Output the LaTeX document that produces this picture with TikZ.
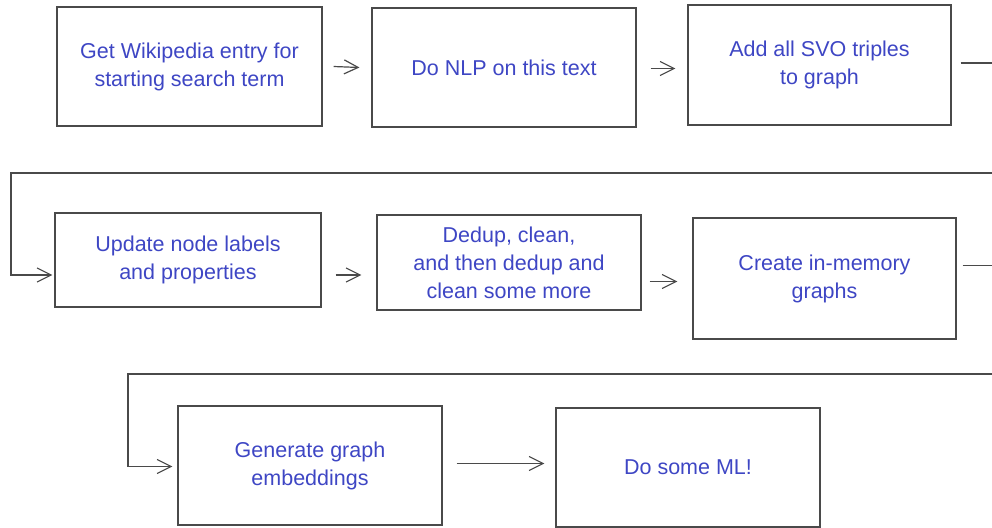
\documentclass[tikz,border=0pt]{standalone}
\usepackage{fontspec}
\setmainfont{Liberation Sans}
\usetikzlibrary{arrows.meta}
\definecolor{inkblue}{HTML}{3E46C4}
\definecolor{lineg}{HTML}{4A4A4A}
\tikzset{
  box/.style={draw=lineg, line width=1.1pt, rectangle, align=center,
    text=inkblue, font=\fontsize{21.5}{28}\selectfont, inner sep=0pt},
  conn/.style={draw=lineg, line width=1.2pt},
  arr/.style={conn, -{Straight Barb[length=14pt,width=14pt,line width=1.2pt]}}
}
\begin{document}
\begin{tikzpicture}[x=1pt,y=-1pt]
\useasboundingbox (0,0) rectangle (992,527);
% row 1
\node[box, minimum width=265pt, minimum height=119pt] (b1) at (189.5,66.5) {Get Wikipedia entry for\\starting search term};
\node[box, minimum width=264pt, minimum height=119pt] (b2) at (504,67.5) {Do NLP on this text};
\node[box, minimum width=263pt, minimum height=120pt] (b3) at (819.5,65) {Add all SVO triples\\to graph};
% row 2
\node[box, minimum width=266pt, minimum height=94pt] (b4) at (188,260) {Update node labels\\and properties};
\node[box, minimum width=264pt, minimum height=95pt] (b5) at (509,262.5) {Dedup, clean,\\and then dedup and\\clean some more};
\node[box, minimum width=263pt, minimum height=121pt] (b6) at (824.5,278.5) {Create in-memory\\graphs};
% row 3
\node[box, minimum width=264pt, minimum height=119pt] (b7) at (310,465.5) {Generate graph\\embeddings};
\node[box, minimum width=264pt, minimum height=119pt] (b8) at (688,467.5) {Do some ML!};
% coordinates for edge runs
\coordinate (s1) at ([xshift=9pt,yshift=2pt]b3.east);
\coordinate (e1) at (992,63);
\coordinate (e1b) at (992,173);
\coordinate (l1) at (11,173);
\coordinate (s2) at ([xshift=6pt,yshift=13pt]b6.east);
\coordinate (e2b) at (992,374);
\coordinate (l2) at (128,374);
% arrows
\draw[arr] ([xshift=11pt]b1.east) -- ([xshift=-12pt]b2.west);
\draw[arr] ([xshift=14pt,yshift=-1pt]b2.east) -- ([xshift=-12pt,yshift=-1pt]b2.east -| b3.west);
\draw[conn] (s1) -- (s1 -| e1);
\draw[arr] (e1b) -- (l1) |- ([xshift=-2pt,yshift=-15pt]b4.west);
\draw[arr] ([xshift=14pt,yshift=-15pt]b4.east) -- ([xshift=-15pt,yshift=-15pt]b4.east -| b5.west);
\draw[arr] ([xshift=8pt,yshift=-19pt]b5.east) -- ([xshift=-15pt,yshift=-19pt]b5.east -| b6.west);
\draw[conn] (s2) -- (s2 -| e2b);
\draw[arr] (e2b) -- (l2) |- ([xshift=-5pt,yshift=-1pt]b7.west);
\draw[arr] ([xshift=14pt,yshift=2pt]b7.east) -- ([xshift=-11pt,yshift=2pt]b7.east -| b8.west);
\end{tikzpicture}
\end{document}
